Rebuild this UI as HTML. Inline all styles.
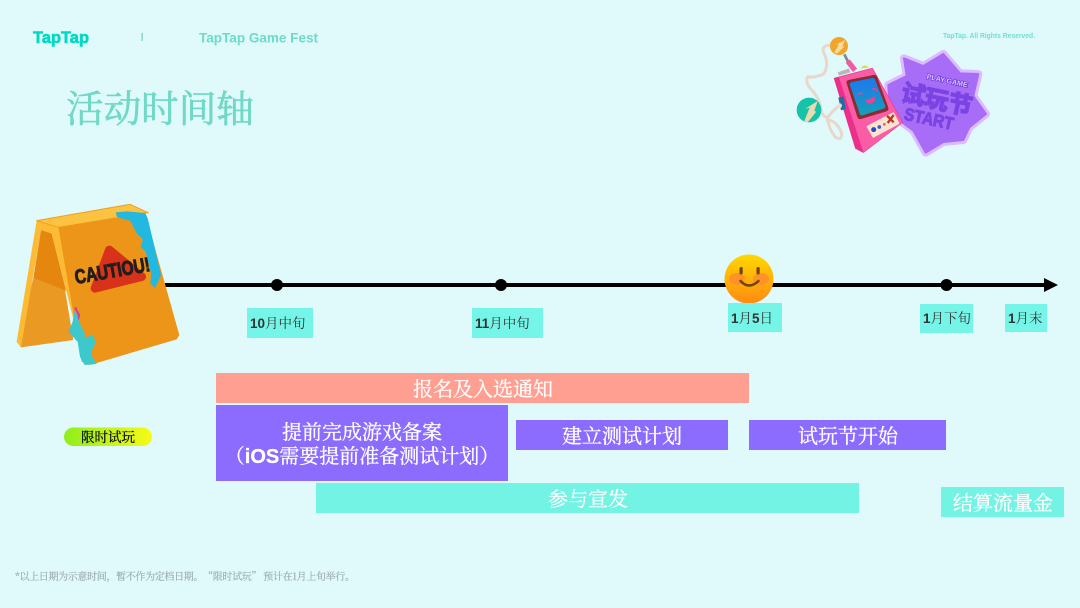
<!DOCTYPE html>
<html lang="zh">
<head>
<meta charset="utf-8">
<title>活动时间轴</title>
<style>
html,body{margin:0;padding:0;background:#e0fafc;}
body{width:1080px;height:608px;overflow:hidden;}
svg{display:block;}
.b{font-family:"Liberation Sans","Noto Sans CJK SC",sans-serif;font-weight:700;}
.m{font-family:"Liberation Sans","Noto Serif CJK SC",serif;}
</style>
</head>
<body>
<svg width="1080" height="608" viewBox="0 0 1080 608" xmlns="http://www.w3.org/2000/svg">
<defs>
<linearGradient id="pill" x1="0" x2="1" y1="0" y2="0"><stop offset="0" stop-color="#8eee1c"/><stop offset="1" stop-color="#f7fb16"/></linearGradient>
<linearGradient id="smile" x1="0" x2="0" y1="0" y2="1"><stop offset="0" stop-color="#ffd800"/><stop offset="1" stop-color="#ff8a12"/></linearGradient>
<linearGradient id="scr" x1="0" x2="0" y1="0" y2="1"><stop offset="0" stop-color="#1c78f0"/><stop offset="1" stop-color="#16a0b8"/></linearGradient>
</defs>
<rect width="1080" height="608" fill="#e0fafc"/>

<!-- header -->
<text x="33" y="43" class="b" font-size="16.500" fill="#00d9c3" stroke="#00d9c3" stroke-width=".6" textLength="56" lengthAdjust="spacingAndGlyphs">TapTap</text>
<rect x="141.500" y="33" width="1.300" height="8" fill="#7fcfc4"/>
<text x="199" y="42.500" class="b" font-size="13.500" fill="#6bdcc8" textLength="119" lengthAdjust="spacingAndGlyphs">TapTap Game Fest</text>
<text x="66" y="122" font-size="37.600" fill="#6fd8c6" stroke="#6fd8c6" stroke-width=".6" font-family="Noto Serif CJK SC">活动时间轴</text>
<text x="943" y="38" class="b" font-size="7" fill="#6fe0cf" textLength="92" lengthAdjust="spacingAndGlyphs">TapTap. All Rights Reserved.</text>

<!-- badge -->
<g transform="translate(880 40) scale(.33333)">
  <polygon points="72,55 130,78 190,42 240,100 295,102 280,168 318,222 268,262 250,300 190,306 137,338 100,272 30,220 25,135 80,108" fill="#dcbcff" stroke="#dcbcff" stroke-width="24" stroke-linejoin="round"/>
  <polygon points="72,55 130,78 190,42 240,100 295,102 280,168 318,222 268,262 250,300 190,306 137,338 100,272 30,220 25,135 80,108" fill="#a76df6" stroke="#a76df6" stroke-width="6" stroke-linejoin="round"/>
  <g transform="rotate(12 170 190)">
    <text x="187" y="124" text-anchor="middle" class="b" font-size="21" fill="#dcc4ff" stroke="#6c3be0" stroke-width="4" paint-order="stroke" textLength="125" lengthAdjust="spacingAndGlyphs">PLAY GAME</text>
    <text x="168" y="204" text-anchor="middle" class="b" font-size="72" fill="#7b43e4" stroke="#7b43e4" stroke-width="4" textLength="216" lengthAdjust="spacing">试玩节</text>
    <text x="157" y="258" text-anchor="middle" class="b" font-size="52" fill="#7b43e4" stroke="#7b43e4" stroke-width="3" textLength="150" lengthAdjust="spacingAndGlyphs">START</text>
  </g>
</g>

<!-- device -->
<g transform="translate(795 35) scale(.33333)">
  <path d="M110 30 Q80 30 85 50 Q105 90 85 118 Q50 130 38 125 Q28 145 55 170 Q75 195 78 225 Q85 250 100 245 Q115 225 135 210 M100 245 Q95 270 120 305 Q140 320 140 295 Q125 255 95 255" fill="none" stroke="#e8d8cc" stroke-width="9" stroke-linejoin="round" stroke-linecap="round"/>
  <circle cx="42" cy="225" r="37" fill="#15c3a8"/>
  <path d="M28 258 L44 218 L30 222 L68 198 L58 228 L64 230 L38 262Z" fill="#ecd9b0"/>
  <circle cx="132" cy="33" r="27" fill="#f3a52a"/>
  <path d="M118 52 L132 28 L122 30 L150 15 L142 35 L148 35 L126 56Z" fill="#f5dda0"/>
  <path d="M148 58 L160 82" stroke="#7a8a88" stroke-width="8"/>
  <path d="M158 78 L180 106" stroke="#f45aa5" stroke-width="16"/>
  <path d="M197 100 Q208 84 222 98Z" fill="#d8e040"/>
  <path d="M128 112 L162 100 L166 112 L132 122Z" fill="#b8b8b8"/>
  <path d="M118 130 L232 100 L322 262 L205 352 L182 340 Z" fill="#ec2f8a" stroke="#ec2f8a" stroke-width="3" stroke-linejoin="round"/>
  <path d="M132 127 L232 100 L322 262 L205 352 Z" fill="#fb5ca6"/>
  <path d="M155 145 Q152 138 160 135 L235 120 Q244 118 247 127 L280 218 Q282 226 274 229 L198 252 Q190 254 187 246 Z" fill="#8e2a30"/>
  <path d="M165 151 Q163 143 170 141 L232 129 Q238 128 240 134 L271 213 Q272 219 266 221 L202 241 Q196 243 194 236 Z" fill="url(#scr)"/>
  <path d="M187 180 Q196 170 204 178 M230 164 Q238 156 246 168" fill="none" stroke="#f43f8e" stroke-width="4"/>
  <path d="M212 194 Q226 194 240 184 Q242 202 226 206 Q214 206 212 194Z" fill="#f43f8e"/>
  <path d="M218 275 L295 235 L310 265 L235 305 Z" fill="#f7e3d0" stroke="#f7e3d0" stroke-width="6" stroke-linejoin="round"/>
  <circle cx="236" cy="284" r="7.500" fill="#2847c8"/><circle cx="253" cy="276" r="5.500" fill="#3a5ad8"/><circle cx="268" cy="268" r="4" fill="#f05070"/>
  <path d="M276 242 L296 262 M296 240 L278 264" stroke="#b53a20" stroke-width="7"/>
  <path d="M130 188 L146 184 L152 222 L138 226Z" fill="#1e6ea8"/>
  <circle cx="134" cy="212" r="7" fill="#e8e0d8"/>
</g>

<!-- timeline -->
<rect x="165" y="283" width="882" height="4" fill="#000"/>
<path d="M1044 278 L1058 285 L1044 292Z" fill="#000"/>
<circle cx="277" cy="285" r="6" fill="#000"/>
<circle cx="501" cy="285" r="6" fill="#000"/>
<circle cx="946.500" cy="285" r="6" fill="#000"/>

<!-- smiley -->
<circle cx="749" cy="279" r="24.500" fill="url(#smile)"/>
<ellipse cx="737" cy="279" rx="8" ry="6" fill="#ff9226"/>
<ellipse cx="761" cy="279" rx="8" ry="6" fill="#ff9226"/>
<rect x="739.500" y="267" width="3.200" height="7.500" rx="1.600" fill="#6e4510"/>
<rect x="756.500" y="267" width="3.200" height="7.500" rx="1.600" fill="#6e4510"/>
<path d="M740.500 281 Q749 290 758.500 281" fill="none" stroke="#6e4510" stroke-width="2.500" stroke-linecap="round"/>

<!-- caution sign -->
<g transform="translate(10 200) scale(.33333)">
  <path d="M70 235 L165 270 L190 420 L33 442 L20 425Z" fill="#ea9a22"/>
  <path d="M93 90 L125 100 L168 272 L70 235Z" fill="#e5860e"/>
  <path d="M80 62 L145 82 L195 335 L192 365 L125 100 L93 90 L33 442 L20 425Z" fill="#fdbb35"/>
  <path d="M80 62 L360 13 L415 38 L145 82Z" fill="#fbc341" stroke="#f0a020" stroke-width="3" stroke-linejoin="round"/>
  <path d="M145 82 L405 38 L508 405 L500 418 L240 495 L215 485 L190 340Z" fill="#ec9518"/>
  <path d="M298 150 L255 265 L395 230Z" fill="#d9321a" stroke="#d9321a" stroke-width="26" stroke-linejoin="round"/>
  <text transform="translate(198 252) rotate(-10)" class="b" font-size="60" fill="#221e1c" stroke="#221e1c" stroke-width="3" textLength="228" lengthAdjust="spacingAndGlyphs">CAUTIOU!</text>
  <path d="M318 38 L350 35 L405 40 L412 55 L430 130 L452 225 L435 262 L422 250 L425 222 L408 155 L393 140 L400 118 L380 98 L362 62 L322 50Z" fill="#22b8e0" stroke="#22b8e0" stroke-width="2" stroke-linejoin="round"/>
  <path d="M195 322 L207 345 L202 365 L178 395" fill="none" stroke="#d0459a" stroke-width="7"/>
  <path d="M195 335 L207 370 L222 400 L222 420 L245 405 L255 425 L240 460 L250 480 L258 490 L225 493 L212 470 L205 425 L178 395 L190 365Z" fill="#3cc8cc" stroke="#3cc8cc" stroke-width="4" stroke-linejoin="round"/>
</g>

<!-- date labels -->
<g fill="#74f5e8">
  <rect x="247" y="308" width="66" height="30"/>
  <rect x="472" y="308" width="71" height="30"/>
  <rect x="728" y="303" width="54" height="29"/>
  <rect x="920" y="304" width="53" height="29"/>
  <rect x="1005" y="304" width="42" height="28"/>
</g>
<g font-size="13.500" fill="#333" class="m">
  <text x="250" y="328"><tspan font-weight="700">10</tspan>月中旬</text>
  <text x="475" y="328"><tspan font-weight="700">11</tspan>月中旬</text>
  <text x="731" y="323"><tspan font-weight="700">1</tspan>月<tspan font-weight="700">5</tspan>日</text>
  <text x="923" y="323"><tspan font-weight="700">1</tspan>月下旬</text>
  <text x="1008" y="323"><tspan font-weight="700">1</tspan>月末</text>
</g>

<!-- bars -->
<rect x="216" y="373" width="533" height="30" fill="#ff9f92"/>
<rect x="216" y="405" width="292" height="76" fill="#8b6cff"/>
<rect x="516" y="420" width="212" height="30" fill="#8b6cff"/>
<rect x="749" y="420" width="197" height="30" fill="#8b6cff"/>
<rect x="316" y="483" width="543" height="30" fill="#72f3e3"/>
<rect x="941" y="487" width="123" height="30" fill="#72f3e3"/>
<g fill="#fff" stroke="#fff" stroke-width=".3" font-size="20" text-anchor="middle" font-family="Noto Serif CJK SC">
  <text x="483" y="396">报名及入选通知</text>
  <text x="362" y="439">提前完成游戏备案</text>
  <text x="622" y="443">建立测试计划</text>
  <text x="848" y="443">试玩节开始</text>
  <text x="588" y="506">参与宣发</text>
  <text x="1003" y="510">结算流量金</text>
</g>
<text x="362" y="463" text-anchor="middle" fill="#fff" stroke="#fff" stroke-width=".3" font-size="20" font-family="Liberation Sans,Noto Serif CJK SC,serif">（<tspan font-weight="700">iOS</tspan>需要提前准备测试计划）</text>

<!-- pill -->
<rect x="64" y="427.500" width="88" height="18.500" rx="9.250" fill="url(#pill)"/>
<text x="108" y="442" text-anchor="middle" font-size="13.500" fill="#111" stroke="#111" stroke-width=".3" font-family="Noto Serif CJK SC">限时试玩</text>

<!-- footnote -->
<text x="15" y="580" font-size="10" fill="#9aaaac" stroke="#9aaaac" stroke-width=".15" font-family="Noto Serif CJK SC" textLength="340" lengthAdjust="spacing">*以上日期为示意时间，暂不作为定档日期。“限时试玩” 预计在1月上旬举行。</text>
</svg>
</body>
</html>
